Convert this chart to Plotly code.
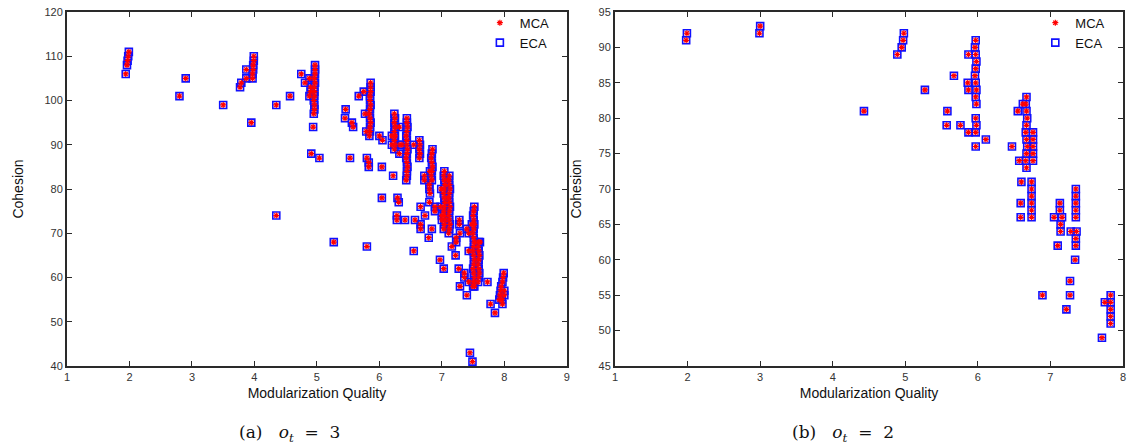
import plotly.graph_objects as go

# ---- panel (a): o_t = 3 ----
mq_a = [1.94, 1.96, 1.97, 1.98, 1.99,
        2.80, 2.90, 3.50,
        3.77, 3.79, 3.87, 3.87, 3.95, 3.97, 3.97, 3.98, 3.98, 3.99, 3.99,
        4.35, 4.35, 4.57, 4.75, 4.81, 4.88, 4.88, 4.90, 4.90,
        4.95, 4.96, 4.96, 4.95, 4.96, 4.96, 4.96, 4.97, 4.96, 4.97, 4.97, 4.97,
        4.94, 4.91, 5.04, 5.27,
        5.46, 5.45, 5.56, 5.58, 5.53, 5.67, 5.75, 5.77, 5.79,
        5.84, 5.85, 5.85, 5.86, 5.85, 5.84, 5.85, 5.86, 5.85, 5.85, 5.86, 5.86, 5.86,
        5.80, 5.83, 5.83, 5.80,
        6.00, 6.05, 6.04, 6.04, 6.20, 6.20, 6.22,
        6.24, 6.25, 6.24, 6.25, 6.24, 6.25, 6.24, 6.25, 6.24,
        6.32, 6.33, 6.32, 6.36, 6.29, 6.31, 6.28, 6.28, 6.41, 6.57,
        6.43, 6.44, 6.44, 6.45, 6.44, 6.43, 6.44, 6.45, 6.44, 6.44, 6.43, 6.44, 6.45, 6.44, 6.44,
        6.55, 6.64, 6.65, 6.64, 6.65, 6.64,
        6.84, 6.83, 6.84, 6.85, 6.84, 6.83, 6.84, 6.85,
        6.81, 6.80, 6.80, 6.81, 6.72, 6.72,
        6.80, 6.66, 6.89, 6.89, 6.73, 6.66, 6.66, 6.84, 6.79, 6.55,
        7.03, 7.04, 7.05, 7.04, 7.03, 7.04, 7.05, 7.04, 7.03, 7.04, 7.05, 7.04, 7.03, 7.04,
        7.11, 7.12, 7.13, 7.12, 7.11, 7.12, 7.13, 7.12, 7.11, 7.12, 7.13, 7.12, 7.11, 7.12,
        6.99, 7.00, 7.00, 6.98,
        7.16, 7.23, 7.23, 7.28, 7.28, 7.29, 7.40, 7.43, 7.48,
        6.97, 7.03, 7.27, 7.36, 7.36, 7.43, 7.29, 7.52, 7.40, 7.22, 7.43,
        7.50, 7.51, 7.52, 7.51, 7.50, 7.51, 7.52, 7.51, 7.50, 7.51, 7.52, 7.51, 7.50, 7.51, 7.52, 7.51, 7.50, 7.51, 7.52,
        7.58, 7.59, 7.60, 7.59, 7.58, 7.59, 7.60, 7.59, 7.58, 7.59, 7.61,
        7.73, 7.78, 7.85,
        7.93, 7.94, 7.95, 7.96, 7.97, 7.98, 7.99, 8.00, 8.00, 7.97, 7.92,
        7.45, 7.49]
coh_a = [106, 108, 109, 110, 111,
         101, 105, 99,
         103, 104, 105, 107, 95, 105, 106, 107, 108, 109, 110,
         99, 74, 101, 106, 104, 105, 101, 103, 102,
         97, 98, 99, 100, 101, 102, 103, 104, 105, 106, 107, 108,
         94, 88, 87, 68,
         98, 96, 95, 94, 87, 101, 102, 97, 93,
         92, 93, 94, 95, 96, 97, 98, 99, 100, 101, 102, 103, 104,
         87, 86, 85, 67,
         92, 91, 85, 78, 92, 90, 83,
         89, 90, 91, 92, 93, 94, 95, 96, 97,
         94, 90, 88, 90, 78, 77, 74, 73, 73, 73,
         82, 83, 84, 85, 86, 87, 88, 89, 90, 91, 92, 93, 94, 95, 96,
         90, 87, 88, 89, 90, 91,
         82, 83, 84, 85, 86, 87, 88, 89,
         79, 80, 81, 84, 83, 82,
         77, 76, 76, 75, 74, 72, 71, 71, 69, 66,
         71, 72, 73, 74, 75, 76, 77, 78, 79, 80, 81, 82, 83, 84,
         70, 71, 72, 73, 74, 75, 76, 77, 78, 79, 80, 81, 82, 83,
         80, 74, 73, 76,
         67, 69, 68, 73, 72, 70, 71, 70, 72,
         64, 62, 62, 61, 60, 59, 58, 58, 56, 65, 66,
         58, 59, 60, 61, 62, 63, 64, 65, 66, 67, 68, 69, 70, 71, 72, 73, 74, 75, 76,
         59, 60, 61, 62, 63, 64, 65, 66, 67, 68, 68,
         59, 54, 52,
         56, 57, 58, 55, 59, 60, 61, 57, 56, 54, 55,
         43, 41]

# ---- panel (b): o_t = 2 ----
mq_b = [1.98, 1.99, 2.99, 3.00,
        4.98, 4.97, 4.95, 4.89, 4.43, 5.27,
        5.58, 5.57, 5.76, 5.67, 5.87, 5.86, 5.87, 5.87,
        5.97, 5.96, 5.97, 5.98, 5.97, 5.96, 5.97, 5.98, 5.97, 5.98,
        5.97, 5.98, 5.97, 5.97, 6.11, 6.47,
        6.67, 6.66, 6.67, 6.68, 6.67, 6.66, 6.67, 6.68, 6.67, 6.66, 6.67,
        6.62, 6.55, 6.76, 6.76, 6.76, 6.76, 6.76,
        6.57, 6.60, 6.59, 6.59,
        6.74, 6.74, 6.74, 6.74, 6.74, 6.74,
        7.35, 7.35, 7.35, 7.35, 7.35,
        7.13, 7.13, 7.05, 7.16, 7.14, 7.14, 7.10,
        7.28, 7.36, 7.35, 7.35, 7.34,
        7.27, 6.89, 7.27, 7.22,
        7.83, 7.83, 7.83, 7.83, 7.83, 7.75, 7.71]
coh_b = [91, 92, 92, 93,
         92, 91, 90, 89, 81, 84,
         81, 79, 79, 86, 89, 85, 84, 78,
         91, 90, 89, 88, 87, 86, 85, 84, 83, 82,
         80, 79, 78, 76, 77, 76,
         83, 82, 81, 80, 79, 78, 77, 76, 75, 74, 73,
         82, 81, 78, 77, 76, 75, 74,
         74, 71, 68, 66,
         71, 70, 69, 68, 67, 66,
         70, 69, 68, 67, 66,
         68, 67, 66, 66, 65, 64, 62,
         64, 64, 63, 62, 60,
         57, 55, 55, 53,
         55, 54, 53, 52, 51, 54, 49]

series_names = ["MCA", "ECA"]
x_ticks_a = [1, 2, 3, 4, 5, 6, 7, 8, 9]
y_ticks_a = [40, 50, 60, 70, 80, 90, 100, 110, 120]
x_ticks_b = [1, 2, 3, 4, 5, 6, 7, 8]
y_ticks_b = [45, 50, 55, 60, 65, 70, 75, 80, 85, 90, 95]
captions = ["(a)&#160;&#160;&#160;<i>o</i><sub><i>t</i></sub>&#160;&#160;=&#160;&#160;3",
            "(b)&#160;&#160;&#160;<i>o</i><sub><i>t</i></sub>&#160;&#160;=&#160;&#160;2"]

FONT = "Liberation Sans, Arial, sans-serif"
AXC = "#2a2a2a"

fig = go.Figure()

def add_panel(xs, ys, xa, ya, lg):
    fig.add_trace(go.Scatter(
        x=xs, y=ys, mode="markers", name=series_names[1], xaxis=xa, yaxis=ya, legend=lg,
        marker=dict(symbol="square-open", size=7, color="#1010ff",
                    line=dict(width=1.6, color="#1010ff"))))
    fig.add_trace(go.Scatter(
        x=xs, y=ys, mode="markers", name=series_names[0], xaxis=xa, yaxis=ya, legend=lg,
        marker=dict(symbol="asterisk-open", size=5, color="#ff0000",
                    line=dict(width=1.2, color="#ff0000"))))

add_panel(mq_a, coh_a, "x", "y", "legend")
add_panel(mq_b, coh_b, "x2", "y2", "legend2")

axis_common = dict(showline=True, linewidth=2, linecolor=AXC, mirror="allticks",
                   ticks="inside", ticklen=5, tickwidth=1.2, tickcolor=AXC,
                   showgrid=False, zeroline=False, automargin=False,
                   tickfont=dict(family=FONT, size=11, color="#333"),
                   title_font=dict(family=FONT, size=14, color="#111"))

fig.update_layout(
    width=1128, height=445,
    margin=dict(l=66.5, r=4.7, t=11.7, b=79),
    plot_bgcolor="white", paper_bgcolor="white",
    font=dict(family=FONT, color="#111"),
    xaxis=dict(domain=[0, 0.4733], range=[1, 9], tickvals=x_ticks_a, anchor="y",
               title=dict(text="Modularization Quality", standoff=6), **axis_common),
    yaxis=dict(domain=[0, 1], range=[40, 120], tickvals=y_ticks_a, anchor="x",
               title=dict(text="Cohesion", standoff=18), **axis_common),
    xaxis2=dict(domain=[0.519, 1], range=[1, 8], tickvals=x_ticks_b, anchor="y2",
                title=dict(text="Modularization Quality", standoff=6), **axis_common),
    yaxis2=dict(domain=[0, 1], range=[45, 95], tickvals=y_ticks_b, anchor="x2",
                title=dict(text="Cohesion", standoff=14), **axis_common),
    legend=dict(x=0.462, y=1.012, xanchor="right", yanchor="top", traceorder="reversed",
                bgcolor="rgba(0,0,0,0)", font=dict(family=FONT, size=13, color="#111"),
                itemwidth=30, tracegroupgap=0),
    legend2=dict(x=0.988, y=1.012, xanchor="right", yanchor="top", traceorder="reversed",
                 bgcolor="rgba(0,0,0,0)", font=dict(family=FONT, size=13, color="#111"),
                 itemwidth=30, tracegroupgap=0),
    annotations=[
        dict(text=captions[0], xref="paper", yref="paper", x=0.1613, y=-0.192,
             xanchor="left", yanchor="middle", showarrow=False,
             font=dict(family="DejaVu Serif, serif", size=17, color="#111")),
        dict(text=captions[1], xref="paper", yref="paper", x=0.6846, y=-0.192,
             xanchor="left", yanchor="middle", showarrow=False,
             font=dict(family="DejaVu Serif, serif", size=17, color="#111")),
    ],
)

fig.write_html("out.html", config={"displayModeBar": False},
               post_script="document.body.style.margin='0';document.body.style.overflow='hidden';")
